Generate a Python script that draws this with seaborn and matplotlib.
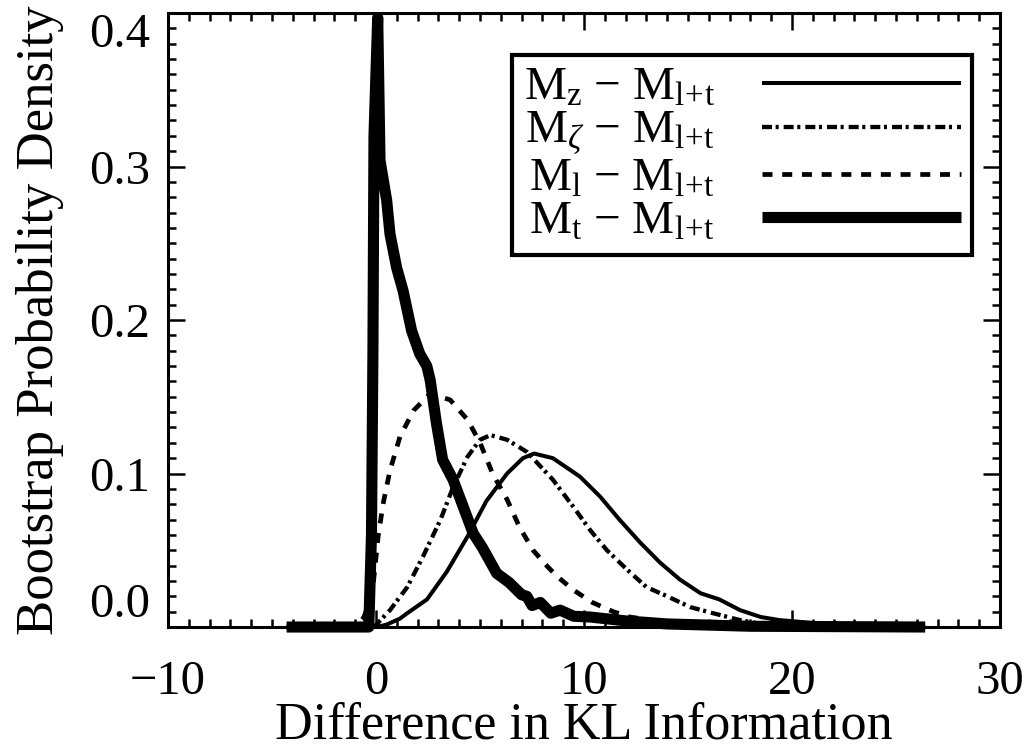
import numpy as np
import pandas as pd
import matplotlib
matplotlib.use("Agg")
import matplotlib.pyplot as plt
import seaborn as sns
from matplotlib.ticker import MultipleLocator, FixedLocator

sns.set_theme(style="ticks")
plt.rcParams["font.family"] = ["Liberation Serif", "DejaVu Serif"]
plt.rcParams["mathtext.fontset"] = "custom"
plt.rcParams["mathtext.rm"] = "Liberation Serif"
plt.rcParams["mathtext.it"] = "Liberation Serif:italic"
plt.rcParams["lines.scale_dashes"] = False

# Bootstrap densities of KL-information differences
labels = [
    "M$_\\mathrm{z}$ − M$_\\mathrm{l\\!+\\!t}$",
    "M$_\\zeta$ − M$_\\mathrm{l\\!+\\!t}$",
    "M$_\\mathrm{l}$ − M$_\\mathrm{l\\!+\\!t}$",
    "M$_\\mathrm{t}$ − M$_\\mathrm{l\\!+\\!t}$",
]

x_z = [-4.3, 0.0, 0.5, 1.15, 1.5, 2.45, 3.4, 4.4, 5.3, 6.3, 7.06, 7.6, 8.5,
       9.8, 10.77, 11.7, 12.7, 13.65, 14.6, 15.6, 16.5, 17.5, 18.5, 19.4,
       20.7, 22.5, 26.4]
y_z = [0.0, 0.0, 0.0015, 0.0055, 0.009, 0.018, 0.036, 0.059, 0.082, 0.100,
       0.110, 0.113, 0.110, 0.098, 0.085, 0.070, 0.055, 0.042, 0.031, 0.022,
       0.018, 0.011, 0.0065, 0.0045, 0.003, 0.001, 0.0]

x_zeta = [-4.3, -0.1, 0.67, 1.5, 2.26, 3.1, 3.7, 4.4, 5.0, 5.5, 6.3, 7.26,
          7.88, 8.5, 9.5, 10.3, 11.1, 12.1, 13.0, 14.0, 15.1, 16.2, 17.5,
          18.5, 20.0, 26.4]
y_zeta = [0.0, 0.0, 0.011, 0.026, 0.046, 0.070, 0.091, 0.111, 0.122, 0.125,
          0.122, 0.114, 0.105, 0.096, 0.078, 0.063, 0.050, 0.037, 0.026,
          0.020, 0.013, 0.009, 0.0045, 0.002, 0.0005, 0.0]

x_l = [-4.3, -1.0, -0.6, -0.2, -0.05, 0.1, 0.35, 0.67, 1.15, 1.8, 2.6, 3.56,
       4.4, 5.0, 5.6, 6.3, 6.9, 7.55, 8.2, 8.7, 9.5, 10.4, 11.4, 12.2, 13.5,
       15.0, 17.0, 26.4]
y_l = [0.0, 0.0, 0.006, 0.020, 0.039, 0.059, 0.081, 0.102, 0.124, 0.141,
       0.152, 0.148, 0.135, 0.120, 0.100, 0.083, 0.065, 0.050, 0.040, 0.033,
       0.024, 0.016, 0.010, 0.0065, 0.004, 0.002, 0.0005, 0.0]

x_t = [-4.3, -0.35, -0.22, -0.15, -0.1, 0.08, 0.19, 0.51, 0.67, 0.99, 1.3,
       1.71, 2.1, 2.44, 2.6, 2.9, 3.2, 3.7, 4.2, 4.67, 5.1, 5.8, 6.4, 7.0,
       7.25, 7.5, 7.9, 8.4, 8.85, 9.5, 10.3, 12.0, 14.0, 18.0, 26.4]
y_t = [0.0, 0.0, 0.06, 0.18, 0.32, 0.397, 0.304, 0.278, 0.256, 0.234, 0.219,
       0.193, 0.178, 0.170, 0.161, 0.133, 0.109, 0.096, 0.078, 0.061, 0.052,
       0.035, 0.029, 0.021, 0.020, 0.014, 0.016, 0.009, 0.011, 0.007, 0.0065,
       0.004, 0.002, 0.0005, 0.0]

xs = [x_z, x_zeta, x_l, x_t]
ys = [y_z, y_zeta, y_l, y_t]

x_ticks = [-10, 0, 10, 20, 30]
y_ticks = [0.0, 0.1, 0.2, 0.3, 0.4]
y_ticklabels = ["0.0", "0.1", "0.2", "0.3", "0.4"]

styles = [
    dict(lw=2.9, linestyle="-"),
    dict(lw=3.1, linestyle=(0, (7.2, 2.6, 2.2, 3.6))),
    dict(lw=3.4, linestyle=(0, (7.2, 7.0))),
    dict(lw=8.0, linestyle="-"),
]

fig = plt.figure(figsize=(10.31, 7.52), dpi=100)
ax = fig.add_axes([0.163, 0.1662, 0.807, 0.8165])

for xv, yv, lab, st in zip(xs, ys, labels, styles):
    df = pd.DataFrame({"x": xv, "y": yv})
    sns.lineplot(data=df, x="x", y="y", ax=ax, color="black", label=lab,
                 sort=False, estimator=None, clip_on=False,
                 solid_joinstyle="round", solid_capstyle="butt", **st)

ax.set_xlim(-10, 30)
ax.set_ylim(0, 0.4)
ax.xaxis.set_major_locator(FixedLocator(x_ticks))
ax.xaxis.set_minor_locator(MultipleLocator(1))
ax.yaxis.set_major_locator(FixedLocator(y_ticks))
ax.yaxis.set_minor_locator(MultipleLocator(0.01))
ax.set_yticklabels(y_ticklabels)

ax.tick_params(which="both", direction="in", top=True, right=True,
               color="black", width=1.8, labelsize=35, labelcolor="black")
ax.tick_params(which="major", length=12)
ax.tick_params(which="minor", length=6)
ax.tick_params(axis="x", which="major", pad=24)
ax.tick_params(axis="y", which="major", pad=13)

for sp in ax.spines.values():
    sp.set_linewidth(2.2)
    sp.set_color("black")

ylabs = ax.get_yticklabels()
ylabs[0].set_va("bottom")
ylabs[-1].set_va("top")

ax.set_xlabel("Difference in KL Information", fontsize=37.5, color="black")
ax.set_ylabel("Bootstrap Probability Density", fontsize=38, color="black")
ax.xaxis.set_label_coords(0.5, -0.122)
ax.yaxis.set_label_coords(-0.125, 0.5)
ax.grid(False)
ax.set_facecolor("white")

leg = ax.legend(loc="upper left", bbox_to_anchor=(0.4966, 0.9269),
                bbox_transform=fig.transFigure, markerfirst=False,
                frameon=True, fancybox=False, fontsize=34, handlelength=4.2,
                labelspacing=0.0, borderpad=0.25, handletextpad=1.0,
                borderaxespad=0)
frame = leg.get_frame()
frame.set_edgecolor("black")
frame.set_linewidth(3.0)
frame.set_alpha(1)
for t in leg.get_texts():
    t.set_color("black")

fig.savefig("out.png", dpi=100, facecolor="white")
